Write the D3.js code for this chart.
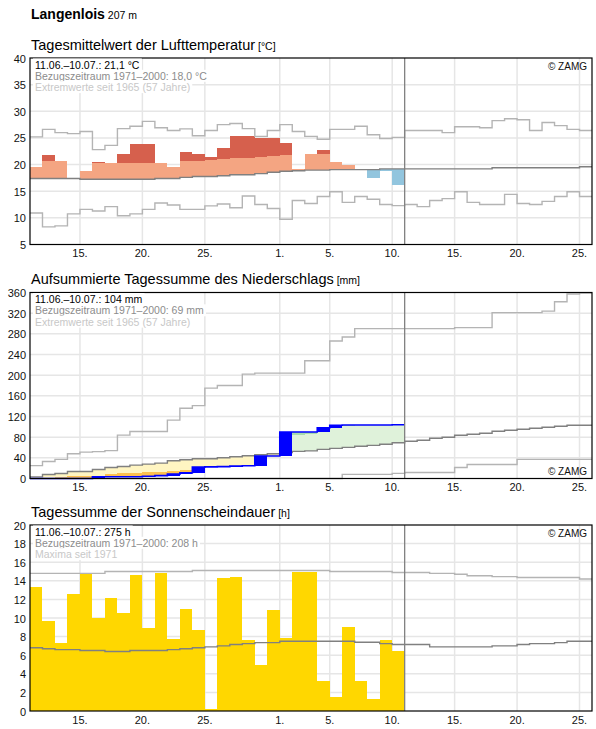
<!DOCTYPE html>
<html lang="de">
<head>
<meta charset="UTF-8">
<title>Langenlois 207 m</title>
<script src="https://d3js.org/d3.v7.min.js"></script>
<style>
    body { margin: 0; background: #fff; }
    svg { display: block; font-family: "Liberation Sans", Arial, sans-serif; }
</style>
</head>
<body>
<svg id="chart" width="596" height="729"></svg>
<script>
// ---- data (one value per day, starting 11.06.2021) ----
const startDate = new Date(2021, 5, 11);
const endDate = new Date(2021, 6, 26);
const todayDate = new Date(2021, 6, 11);
const xTickDates = ["2021-06-15", "2021-06-20", "2021-06-25", "2021-07-01", "2021-07-05",
                    "2021-07-10", "2021-07-15", "2021-07-20", "2021-07-25"];

// temperature, 11.06.-10.07.
const tempValues = [19.5, 21.8, 20.6, 17.4, 18.8, 20.4, 20.3, 22.0, 23.9, 23.9,
                    20.3, 19.5, 22.3, 21.9, 21.4, 23.1, 25.4, 25.4, 24.9, 24.9,
                    24.0, 19.1, 22.0, 22.7, 20.4, 19.9, 19.1, 17.5, 18.8, 16.2];
const tempUpper = [20.6, 20.6, 20.6, 20.4, 20.3, 20.25, 20.25, 20.25, 20.25, 20.25,
                   20.3, 20.4, 20.6, 20.75, 20.9, 21.0, 21.2, 21.2, 21.4, 21.6,
                   21.75, 21.9, 22.0, 22.0, 22.1, 22.1, 22.2, 22.2, 22.3, 22.3];
// climate 1971-2000 and extremes, 11.06.-25.07.
const tempMean = [17.4, 17.4, 17.4, 17.4, 17.25, 17.25, 17.25, 17.25, 17.25, 17.25,
                  17.4, 17.4, 17.6, 17.75, 17.75, 17.9, 18.1, 18.1, 18.3, 18.55,
                  18.75, 18.85, 18.95, 18.95, 19.06, 19.06, 19.06, 19.06, 19.2, 19.2,
                  19.2, 19.2, 19.2, 19.2, 19.2, 19.2, 19.2, 19.4, 19.4, 19.4,
                  19.4, 19.4, 19.4, 19.4, 19.6];
const tempMax = [25.2, 26.6, 26.0, 25.8, 26.2, 22.8, 23.6, 26.75, 27.2, 28.1,
                 26.9, 26.4, 26.7, 25.4, 26.4, 27.5, 27.7, 26.75, 25.3, 26.4,
                 27.5, 26.2, 25.3, 24.75, 26.6, 26.6, 27.2, 25.6, 24.9, 25.1,
                 26.4, 26.4, 26.4, 26.0, 27.1, 27.1, 26.9, 28.25, 28.6, 28.4,
                 26.4, 27.9, 27.3, 26.6, 26.4];
const tempMin = [10.9, 8.3, 8.5, 10.75, 11.6, 11.3, 12.1, 10.4, 10.75, 11.6,
                 12.8, 12.4, 11.6, 11.6, 12.25, 12.6, 11.9, 14.1, 12.5, 11.75,
                 9.75, 13.25, 12.7, 14.0, 14.9, 12.9, 14.0, 13.5, 12.5, 12.3,
                 12.5, 12.1, 13.25, 13.6, 14.9, 12.9, 12.5, 12.5, 14.4, 12.7,
                 12.5, 13.1, 14.0, 14.9, 14.0];

// accumulated precipitation, 11.06.-10.07.
const precipSum = [0, 0, 0, 0, 0, 3.5, 3.5, 3.5, 3.5, 4.5,
                   5.5, 8.5, 10.9, 22.0, 22.5, 23.0, 24.0, 24.6, 43.5, 43.5,
                   90, 90, 90, 98, 103, 103.5, 103.5, 103.5, 103.5, 104];
const precipLower = [0, 0, 2.5, 4.5, 4.5, 5.8, 7.8, 9.7, 9.7, 11.7,
                     12.6, 13.6, 15.6, 16, 16.5, 17, 17.5, 18, 18.5, 19,
                     20, 21, 22, 23, 24, 25, 26, 27, 28, 29];
const precipUpper = [6, 12, 15, 20, 21, 26, 31, 34, 38, 41,
                     44, 49, 52, 55, 56, 58, 61, 64, 67, 70,
                     85, 83.6, 85.6, 96, 101.7, 102.5, 104, 106, 108, 110];
const precipMean = [3.1, 7.8, 9.7, 13.6, 13.6, 17.5, 21.4, 23.3, 25.9, 27.8,
                    29.8, 34.3, 36.3, 38.2, 38.2, 40.1, 42.1, 44.0, 46.0, 47.9,
                    50.0, 52.5, 53.5, 56.4, 58.4, 60.3, 62.3, 64.2, 66.2, 69.3,
                    72.0, 74.0, 77.8, 79.8, 83.7, 85.6, 87.6, 91.5, 93.4, 95.3,
                    97.3, 99.2, 101.2, 103.1, 103.1];
const precipMax = [25, 33, 37, 48, 51, 52, 54, 84, 91, 91,
                   91, 113, 136, 141, 175, 180, 180, 202, 204, 204,
                   204, 204, 228, 228, 266, 274, 290, 290, 290, 290,
                   290, 290, 290, 290, 292, 292, 292, 321, 321, 321,
                   321, 324, 342, 357, 359];
const precipMin = [0, 0, 0, 0, 0, 0, 0, 0, 0, 0,
                   0, 0, 0, 0, 0, 0, 0, 0, 0, 0,
                   0, 0, 0, 0, 0, 8, 8, 8, 8, 10,
                   11.7, 11.7, 11.7, 11.7, 21.4, 27, 27, 27, 27, 37,
                   37, 37, 37, 37, 37];

// sunshine duration, 11.06.-10.07.
const sunValues = [13.3, 9.7, 7.3, 12.6, 14.7, 10.05, 12.2, 10.55, 14.6, 8.9,
                   14.8, 7.7, 11.0, 8.7, 0.2, 14.3, 14.4, 7.6, 4.9, 10.9,
                   7.8, 14.9, 14.9, 3.2, 1.5, 9.0, 3.2, 1.3, 7.6, 6.4];
const sunMean = [6.8, 6.7, 6.6, 6.6, 6.5, 6.5, 6.4, 6.4, 6.5, 6.5,
                 6.5, 6.6, 6.7, 6.8, 6.9, 7.0, 7.15, 7.25, 7.35, 7.35,
                 7.5, 7.5, 7.5, 7.5, 7.5, 7.5, 7.4, 7.4, 7.25, 7.15,
                 7.15, 7.15, 6.9, 6.9, 6.9, 6.9, 6.9, 7.0, 7.0, 7.15,
                 7.25, 7.25, 7.35, 7.5, 7.5];
const sunMax = [14.8, 14.8, 14.8, 14.8, 14.8, 14.8, 15.0, 15.0, 15.0, 15.0,
                15.0, 15.0, 15.0, 15.1, 15.1, 15.1, 15.1, 15.1, 15.1, 15.1,
                15.1, 15.1, 15.1, 15.1, 15.0, 15.0, 15.0, 15.0, 15.0, 14.9,
                14.9, 14.9, 14.8, 14.8, 14.7, 14.55, 14.55, 14.45, 14.45, 14.35,
                14.35, 14.35, 14.35, 14.35, 14.2];

const tempText = ["11.06.–10.07.: 21,1 °C", "Bezugszeitraum 1971–2000: 18,0 °C", "Extremwerte seit 1965 (57 Jahre)"];
const precipText = ["11.06.–10.07.: 104 mm", "Bezugszeitraum 1971–2000: 69 mm", "Extremwerte seit 1965 (57 Jahre)"];
const sunText = ["11.06.–10.07.: 275 h", "Bezugszeitraum 1971–2000: 208 h", "Maxima seit 1971"];

// ---- drawing ----
const svg = d3.select("#chart");
svg.append("rect").attr("width", 596).attr("height", 729).attr("fill", "#fff");

const x = d3.scaleTime().domain([startDate, endDate]).range([30, 592]);
const day = i => d3.timeDay.offset(startDate, i);
const parseDay = d3.timeParse("%Y-%m-%d");
const tickFormat = d3.timeFormat("%-d.");

// step line over daily values
function stepLine(g, y, values, color, width) {
    const pts = values.map((v, i) => [day(i), v]);
    pts.push([day(values.length), values[values.length - 1]]);
    g.append("path")
        .attr("d", d3.line().x(d => x(d[0])).y(d => y(d[1])).curve(d3.curveStepAfter)(pts))
        .attr("fill", "none")
        .attr("stroke", color)
        .attr("stroke-width", width);
}

// daily rectangles between lo(i) and hi(i)
function dayBars(g, y, n, lo, hi, color) {
    g.append("g").attr("shape-rendering", "crispEdges")
        .selectAll("rect")
        .data(d3.range(n).filter(i => hi(i) > lo(i)))
        .join("rect")
        .attr("x", i => Math.round(x(day(i))))
        .attr("width", i => Math.round(x(day(i + 1))) - Math.round(x(day(i))))
        .attr("y", i => y(hi(i)))
        .attr("height", i => y(lo(i)) - y(hi(i)))
        .attr("fill", color);
}

function panel(opt) {
    const y = d3.scaleLinear().domain(opt.domain).range([opt.bottom, opt.top]);
    const g = svg.append("g");
    const ticks = d3.range(opt.domain[0], opt.domain[1] + 0.001, opt.step);

    // title
    const t = g.append("text").attr("x", 31).attr("y", opt.top - 8.5)
        .attr("font-size", 14.5).attr("fill", "#000").text(opt.title);
    t.append("tspan").attr("font-size", 10.5).text(" " + opt.unit);

    // grid
    g.append("g").selectAll("line")
        .data(ticks.slice(1, -1))
        .join("line")
        .attr("x1", 30).attr("x2", 592)
        .attr("y1", d => y(d)).attr("y2", d => y(d))
        .attr("stroke", "#e6e6e6").attr("stroke-width", 1.5);
    g.append("g").selectAll("line")
        .data(xTickDates.map(parseDay))
        .join("line")
        .attr("x1", d => x(d)).attr("x2", d => x(d))
        .attr("y1", opt.top).attr("y2", opt.bottom)
        .attr("stroke", "#e6e6e6").attr("stroke-width", 1.5);

    const plot = g.append("g");
    opt.draw(plot, y);

    // today marker
    g.append("line")
        .attr("x1", x(todayDate)).attr("x2", x(todayDate))
        .attr("y1", opt.top).attr("y2", opt.bottom)
        .attr("stroke", "#808080").attr("stroke-width", 1.3);

    // frame
    g.append("rect")
        .attr("x", 30).attr("y", opt.top)
        .attr("width", 562).attr("height", opt.bottom - opt.top)
        .attr("fill", "none").attr("stroke", "#000").attr("stroke-width", 1.2);

    // axis labels
    g.append("g").selectAll("text")
        .data(ticks)
        .join("text")
        .attr("x", 26).attr("y", d => y(d) + 4.5)
        .attr("text-anchor", "end").attr("font-size", 11).attr("fill", "#111")
        .text(d => d);
    g.append("g").selectAll("text")
        .data(xTickDates.map(parseDay))
        .join("text")
        .attr("x", d => x(d)).attr("y", opt.bottom + 12.5)
        .attr("text-anchor", "middle").attr("font-size", 11).attr("fill", "#111")
        .text(tickFormat);

    // info text with white backing
    const colors = ["#000", "#8c8c8c", "#c8c8c8"];
    opt.info.forEach((s, k) => {
        const tx = g.append("text").attr("x", 35).attr("y", opt.top + 10.5 + k * 11.3)
            .attr("font-size", 10.5).attr("fill", colors[k]).text(s);
        const b = tx.node().getBBox();
        g.insert("rect", () => tx.node())
            .attr("x", b.x - 2).attr("y", b.y)
            .attr("width", b.width + 4).attr("height", b.height)
            .attr("fill", "#fff");
    });

    g.append("text")
        .attr("x", 587).attr("y", opt.zamgBottom ? opt.bottom - 4 : opt.top + 11.5)
        .attr("text-anchor", "end").attr("font-size", 10).attr("fill", "#111")
        .text("© ZAMG");
}

// header
const head = svg.append("text").attr("x", 31).attr("y", 18.5)
    .attr("font-size", 14).attr("font-weight", "bold").attr("fill", "#000").text("Langenlois");
head.append("tspan").attr("font-size", 10.5).attr("font-weight", "normal").text(" 207 m");

panel({
    title: "Tagesmittelwert der Lufttemperatur", unit: "[°C]",
    top: 58, bottom: 244.5, domain: [5, 40], step: 5, info: tempText,
    draw: (g, y) => {
        const n = tempValues.length;
        dayBars(g, y, n, i => tempMean[i], i => Math.min(tempValues[i], tempUpper[i]), "#f4a582");
        dayBars(g, y, n, i => tempUpper[i], i => tempValues[i], "#d6604d");
        dayBars(g, y, n, i => tempValues[i], i => tempMean[i], "#92c5de");
        stepLine(g, y, tempMax, "#b4b4b4", 1.4);
        stepLine(g, y, tempMin, "#b4b4b4", 1.4);
        stepLine(g, y, tempMean, "#808080", 1.4);
    }
});

panel({
    title: "Aufsummierte Tagessumme des Niederschlags", unit: "[mm]",
    top: 292.5, bottom: 478.5, domain: [0, 360], step: 40, info: precipText, zamgBottom: true,
    draw: (g, y) => {
        const n = precipSum.length;
        const a = precipSum, m = precipMean;
        dayBars(g, y, n, i => Math.max(a[i], precipLower[i]), i => m[i], "#fff5c2");
        dayBars(g, y, n, i => a[i], i => Math.min(precipLower[i], m[i]), "#fdc04e");
        dayBars(g, y, n, i => m[i], i => Math.min(a[i], precipUpper[i]), "#dff2da");
        dayBars(g, y, n, i => Math.max(precipUpper[i], m[i]), i => a[i], "#a6dcae");
        stepLine(g, y, precipMax, "#b4b4b4", 1.4);
        stepLine(g, y, precipMin, "#b4b4b4", 1.4);
        stepLine(g, y, precipMean, "#808080", 1.4);
        stepLine(g, y, precipSum, "#0000ff", 1.6);
        dayBars(g, y, n, i => (i > 0 ? a[i - 1] : 0), i => a[i], "#0000ff");
    }
});

panel({
    title: "Tagessumme der Sonnenscheindauer", unit: "[h]",
    top: 525, bottom: 711, domain: [0, 20], step: 2, info: sunText,
    draw: (g, y) => {
        dayBars(g, y, sunValues.length, () => 0, i => sunValues[i], "#ffd700");
        stepLine(g, y, sunMax, "#b4b4b4", 1.4);
        stepLine(g, y, sunMean, "#808080", 1.4);
    }
});
</script>
</body>
</html>
